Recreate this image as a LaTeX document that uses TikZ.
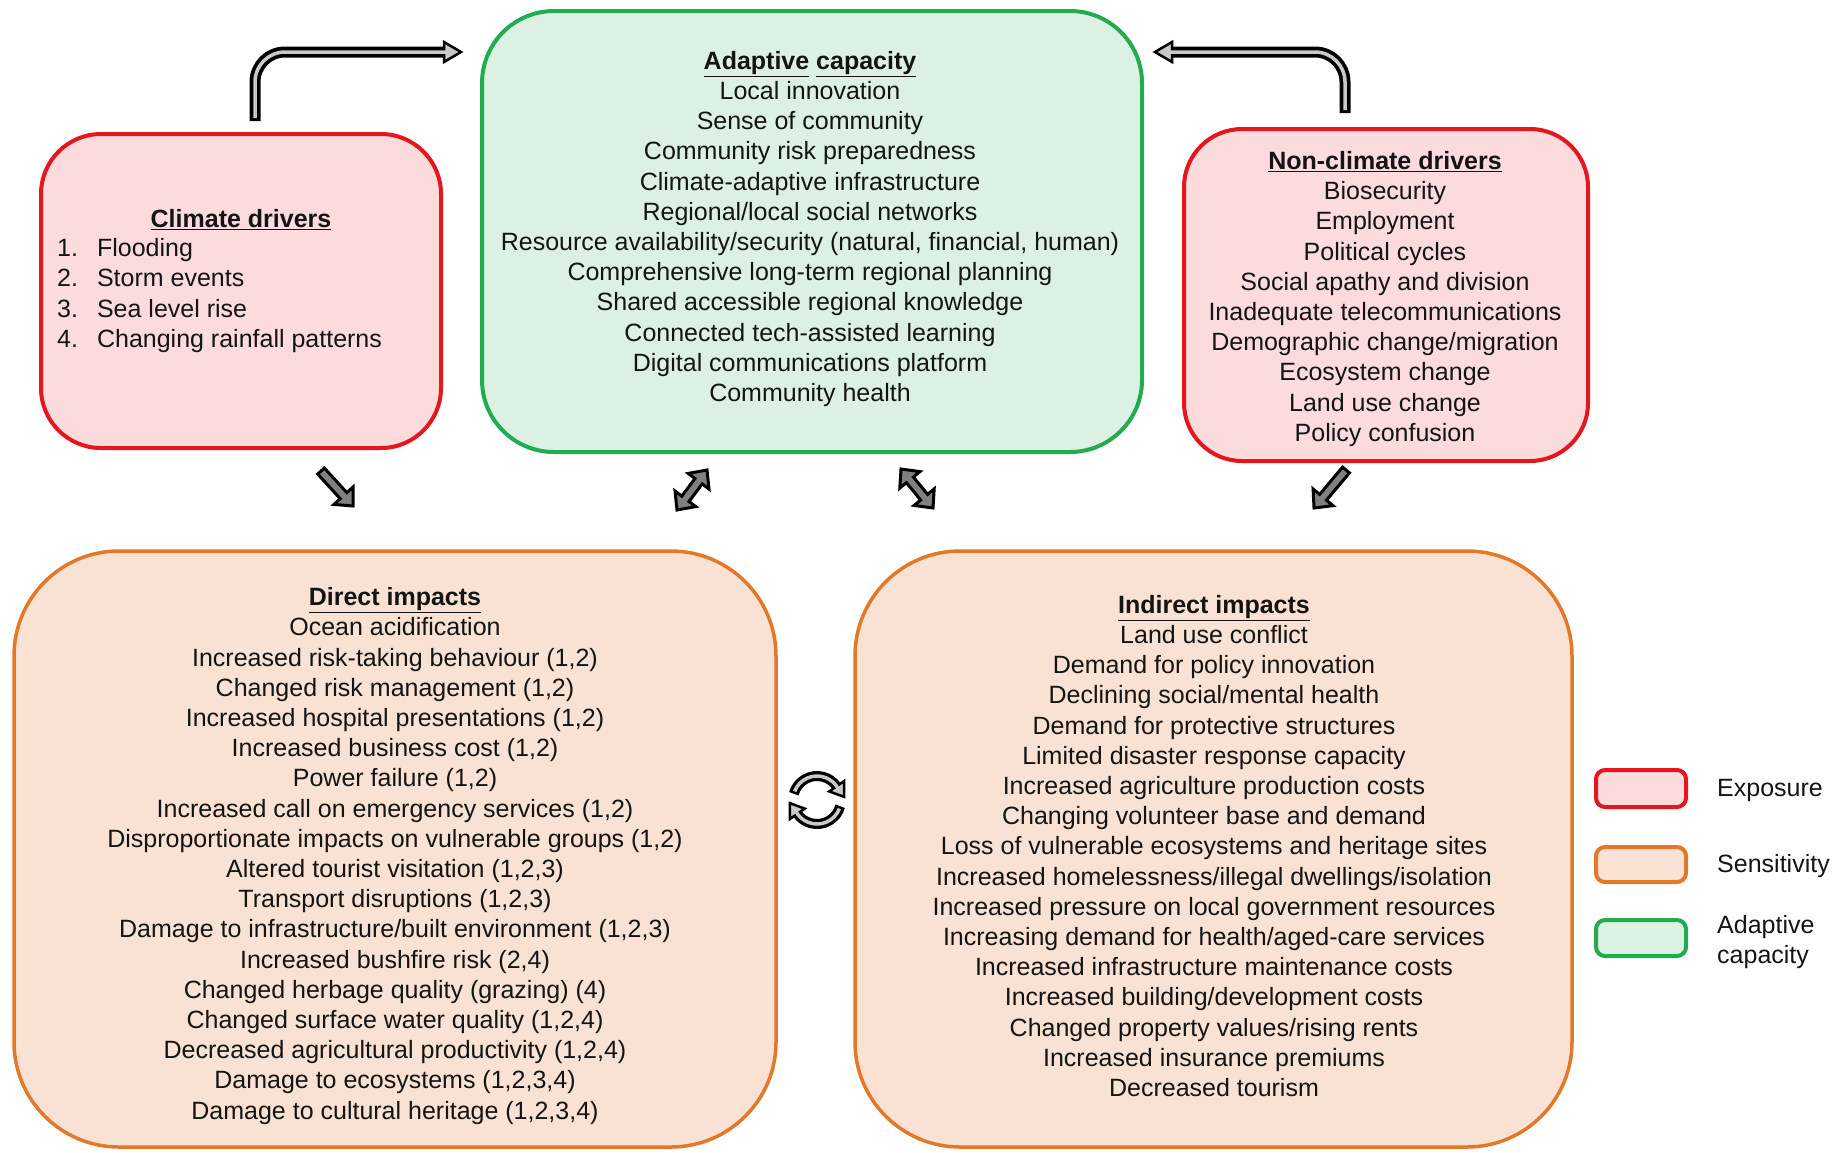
\documentclass[tikz,border=0pt]{standalone}
\usepackage{fontspec}
\setmainfont{Liberation Sans}
\usetikzlibrary{calc}
\definecolor{expD}{RGB}{228,22,30}
\definecolor{expF}{RGB}{252,219,221}
\definecolor{senD}{RGB}{226,120,40}
\definecolor{senF}{RGB}{249,226,212}
\definecolor{adaD}{RGB}{34,172,80}
\definecolor{adaF}{RGB}{220,241,228}
\definecolor{stripe}{RGB}{200,200,200}
\definecolor{blockgray}{RGB}{128,128,128}
\definecolor{txtc}{RGB}{20,20,20}
\newcommand\blockarr[2]{%
  \coordinate (hbA) at ($(#2)!14pt!(#1)$);
  \draw[blockst] ($(#1)!4.5pt!90:(#2)$) -- ($(hbA)!4.5pt!90:(#2)$) -- ($(hbA)!13pt!90:(#2)$) -- (#2)
     -- ($(hbA)!13pt!-90:(#2)$) -- ($(hbA)!4.5pt!-90:(#2)$) -- ($(#1)!4.5pt!-90:(#2)$) -- cycle;}
\newcommand\dblockarr[2]{%
  \coordinate (hbA) at ($(#2)!14pt!(#1)$);
  \coordinate (hbB) at ($(#1)!14pt!(#2)$);
  \draw[blockst] (#1) -- ($(hbB)!13pt!90:(#2)$) -- ($(hbB)!4.5pt!90:(#2)$) -- ($(hbA)!4.5pt!90:(#2)$)
     -- ($(hbA)!13pt!90:(#2)$) -- (#2) -- ($(hbA)!13pt!-90:(#2)$) -- ($(hbA)!4.5pt!-90:(#2)$)
     -- ($(hbB)!4.5pt!-90:(#2)$) -- ($(hbB)!13pt!-90:(#2)$) -- cycle;}
\begin{document}
\begin{tikzpicture}[x=1pt,y=1pt,
  box/.style={draw, line width=4pt, inner sep=0pt, outer sep=0pt, rectangle},
  expo/.style={box, draw=expD, fill=expF},
  sens/.style={box, draw=senD, fill=senF, line width=3.5pt},
  adap/.style={box, draw=adaD, fill=adaF},
  txt/.style={align=center, text=txtc, font=\fontsize{25}{30.2}\selectfont, inner sep=0pt},
  ltxt/.style={align=left, text=txtc, font=\fontsize{25}{30.2}\selectfont, inner sep=0pt, anchor=west},
  shaftout/.style={line width=11pt, draw=black},
  shaftin/.style={line width=3.5pt, draw=stripe},
  headout/.style={fill=stripe, draw=black, line width=2.5pt, line join=miter},
  blockst/.style={fill=blockgray, draw=black, line width=3pt, line join=miter},
]
\useasboundingbox (0,0) rectangle (1843,-1152);

% boxes
\node[expo, rounded corners=60pt, minimum width=400pt, minimum height=314pt] (climate) at (241,-291) {};
\node[adap, rounded corners=72pt, minimum width=660pt, minimum height=441pt] (adaptive) at (812,-231.5) {};
\node[expo, rounded corners=58pt, minimum width=404pt, minimum height=332pt] (nonclimate) at (1386,-295) {};
\node[sens, rounded corners=105pt, minimum width=762pt, minimum height=596pt] (direct) at (395,-849) {};
\node[sens, rounded corners=105pt, minimum width=717pt, minimum height=596pt] (indirect) at (1213.5,-849) {};

% texts
\node[txt] (adtxt) at (810,-229) {\underline{\textbf{Adaptive}} \underline{\textbf{capacity}}\\
Local innovation\\
Sense of community\\
Community risk preparedness\\
Climate-adaptive infrastructure\\
Regional/local social networks\\
Resource availability/security (natural, financial, human)\\
Comprehensive long-term regional planning\\
Shared accessible regional knowledge\\
Connected tech-assisted learning\\
Digital communications platform\\
Community health};

\node[txt] (cdtitle) at (241,-220) {\underline{\textbf{Climate drivers}}};
\node[ltxt] (cdlist) at (57,-296) {\begin{tabular}{@{}l@{\hspace{19pt}}l@{}}1. & Flooding\\2. & Storm events\\3. & Sea level rise\\4. & Changing rainfall patterns\end{tabular}};

\node[txt] (nctxt) at (1385,-299) {\underline{\textbf{Non-climate drivers}}\\
Biosecurity\\
Employment\\
Political cycles\\
Social apathy and division\\
Inadequate telecommunications\\
Demographic change/migration\\
Ecosystem change\\
Land use change\\
Policy confusion};

\node[txt] (ditxt) at (395,-856) {\underline{\textbf{Direct impacts}}\\
Ocean acidification\\
Increased risk-taking behaviour (1,2)\\
Changed risk management (1,2)\\
Increased hospital presentations (1,2)\\
Increased business cost (1,2)\\
Power failure (1,2)\\
Increased call on emergency services (1,2)\\
Disproportionate impacts on vulnerable groups (1,2)\\
Altered tourist visitation (1,2,3)\\
Transport disruptions (1,2,3)\\
Damage to infrastructure/built environment (1,2,3)\\
Increased bushfire risk (2,4)\\
Changed herbage quality (grazing) (4)\\
Changed surface water quality (1,2,4)\\
Decreased agricultural productivity (1,2,4)\\
Damage to ecosystems (1,2,3,4)\\
Damage to cultural heritage (1,2,3,4)};

\node[txt] (intxt) at (1214,-846) {\underline{\textbf{Indirect impacts}}\\
Land use conflict\\
Demand for policy innovation\\
Declining social/mental health\\
Demand for protective structures\\
Limited disaster response capacity\\
Increased agriculture production costs\\
Changing volunteer base and demand\\
Loss of vulnerable ecosystems and heritage sites\\
Increased homelessness/illegal dwellings/isolation\\
Increased pressure on local government resources\\
Increasing demand for health/aged-care services\\
Increased infrastructure maintenance costs\\
Increased building/development costs\\
Changed property values/rising rents\\
Increased insurance premiums\\
Decreased tourism};

% legend
\node[expo, rounded corners=9pt, minimum width=90pt, minimum height=37pt] (legexp) at (1641,-788.5) {};
\node[sens, line width=4pt, rounded corners=9pt, minimum width=90pt, minimum height=35pt] (legsen) at (1641,-864.5) {};
\node[adap, rounded corners=9pt, minimum width=90pt, minimum height=36pt] (legada) at (1641,-938) {};
\node[ltxt] (legexpt) at (1717,-790) {Exposure};
\node[ltxt] (legsent) at (1717,-866) {Sensitivity};
\node[ltxt] (legadat) at (1717,-942) {Adaptive\\capacity};

% top-left L arrow (climate -> adaptive)
\coordinate (cl0) at (255,-121);
\coordinate (cl1) at (255,-52);
\coordinate (cl2) at (444,-52);
\coordinate (cl3) at (461,-52);
\draw[shaftout, rounded corners=30pt] (cl0) -- (cl1) -- (cl2);
\draw[headout] ($(cl2)+(0,10)$) -- (cl3) -- ($(cl2)+(0,-10)$) -- cycle;
\draw[shaftin, rounded corners=30pt] ($(cl0)+(0,3)$) -- (cl1) -- ($(cl2)+(5,0)$);

% top-right L arrow (non-climate -> adaptive)
\coordinate (cr0) at (1345,-113);
\coordinate (cr1) at (1345,-52);
\coordinate (cr2) at (1172,-52);
\coordinate (cr3) at (1155,-52);
\draw[shaftout, rounded corners=30pt] (cr0) -- (cr1) -- (cr2);
\draw[headout] ($(cr2)+(0,10)$) -- (cr3) -- ($(cr2)+(0,-10)$) -- cycle;
\draw[shaftin, rounded corners=30pt] ($(cr0)+(0,3)$) -- (cr1) -- ($(cr2)+(-5,0)$);

% block arrows
\coordinate (ca1) at (321,-471);
\coordinate (ca2) at (353,-506);
\blockarr{ca1}{ca2}
\coordinate (da1) at (677,-510);
\coordinate (da2) at (707,-470);
\dblockarr{da1}{da2}
\coordinate (ia1) at (901,-469);
\coordinate (ia2) at (933,-508);
\dblockarr{ia1}{ia2}
\coordinate (na1) at (1346,-470);
\coordinate (na2) at (1314,-508);
\blockarr{na1}{na2}

% cycle icon
\coordinate (cyc) at (817,-800);
\draw[shaftout, line width=10pt] ($(cyc)+(165:24pt)$) arc[start angle=165, end angle=35, radius=24pt];
\draw[shaftout, line width=10pt] ($(cyc)+(-15:24pt)$) arc[start angle=-15, end angle=-145, radius=24pt];
\coordinate (cyE1) at ($(cyc)+(35:24pt)$);
\coordinate (cyE2) at ($(cyc)+(-145:24pt)$);
\draw[headout] ($(cyE1)+(35:9pt)$) -- ($(cyE1)+(-55:13pt)$) -- ($(cyE1)+(215:9pt)$) -- cycle;
\draw[headout] ($(cyE2)+(-145:9pt)$) -- ($(cyE2)+(125:13pt)$) -- ($(cyE2)+(35:9pt)$) -- cycle;
\draw[shaftin] ($(cyc)+(159:24pt)$) arc[start angle=159, end angle=28, radius=24pt];
\draw[shaftin] ($(cyc)+(-21:24pt)$) arc[start angle=-21, end angle=-152, radius=24pt];
\end{tikzpicture}
\end{document}
